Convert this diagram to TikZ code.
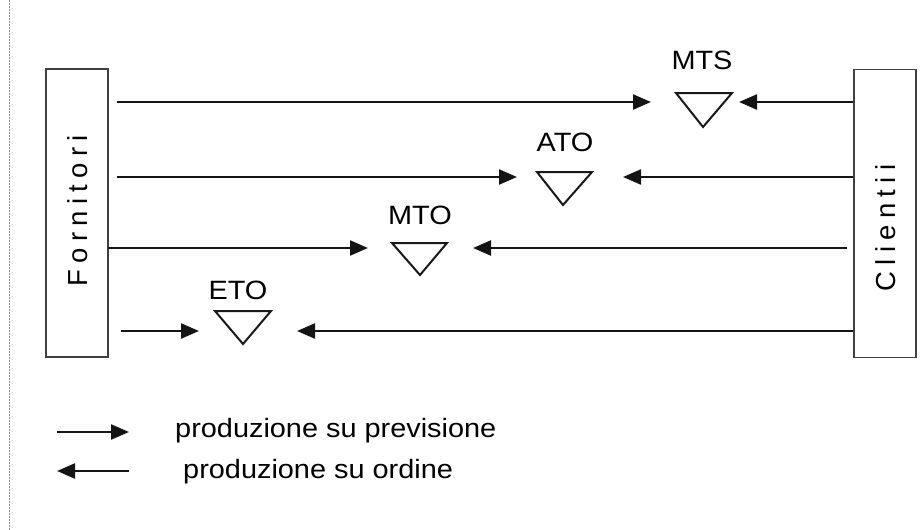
\documentclass[tikz,border=0pt]{standalone}
\usepackage{fontspec}
\setmainfont{Liberation Sans}
\usetikzlibrary{arrows.meta}

\tikzset{
  flow/.style={line width=2.3pt, draw=black!92, -{Triangle[length=18pt,width=15pt]}},
  party/.style={draw=black!75, line width=1.6pt, minimum width=62pt, minimum height=288pt, inner sep=0pt},
  partytext/.style={rotate=90, anchor=base, inner sep=0pt,
    font=\fontsize{27.5}{30}\selectfont\addfontfeature{LetterSpace=23}},
  buffer/.style={draw=black!90, line width=2pt, line join=miter},
  tag/.style={anchor=base, inner sep=0pt, font=\fontsize{26.5}{30}\selectfont},
  legendtext/.style={anchor=base west, inner sep=0pt, font=\fontsize{26.5}{30}\selectfont}
}

\begin{document}
\begin{tikzpicture}[x=1pt, y=-1pt]
  \useasboundingbox (0,0) rectangle (922,530);

  % margin rule on the left
  \draw[black!45, line width=1pt, dash pattern=on 1.5pt off 1.5pt] (9,0) -- (9,530);

  % suppliers and customers
  \node[party] (forn) at (77,213) {};
  \node[party] (cli) at (885,213.5) {};
  \node[partytext] (fornlbl) at (87.5,211) {Fornitori};
  \node[partytext] (clilbl) at (895.5,228) {Clientii};

  % decoupling points (stock buffers)
  \draw[buffer] (676,93) -- (732,93) -- (703,127) -- cycle;
  \draw[buffer] (537,172) -- (592,172) -- (563,205) -- cycle;
  \draw[buffer] (392,243) -- (447,243) -- (420,275) -- cycle;
  \draw[buffer] (215,311) -- (271,311) -- (243,344) -- cycle;

  \node[tag] (mts) at (702,69) {\scalebox{1.09}[1]{MTS}};
  \node[tag] (ato) at (565,151) {\scalebox{1.09}[1]{ATO}};
  \node[tag] (mto) at (420,224) {\scalebox{1.09}[1]{MTO}};
  \node[tag] (eto) at (238,299) {\scalebox{1.09}[1]{ETO}};

  % arrow end points
  \coordinate (f1) at (117,102);  \coordinate (t1) at (651,102);
  \coordinate (f2) at (117,177);  \coordinate (t2) at (517,177);
  \coordinate (f3) at (108,248);  \coordinate (t3) at (368,248);
  \coordinate (f4) at (121,331);  \coordinate (t4) at (199,331);

  \coordinate (c1) at (853,102);  \coordinate (u1) at (739,102);
  \coordinate (c2) at (853,177);  \coordinate (u2) at (623,177);
  \coordinate (c3) at (847,248);  \coordinate (u3) at (473,248);
  \coordinate (c4) at (853,331);  \coordinate (u4) at (297,331);

  % production driven by forecast
  \draw[flow] (f1) -- (t1);
  \draw[flow] (f2) -- (t2);
  \draw[flow] (f3) -- (t3);
  \draw[flow] (f4) -- (t4);

  % production driven by orders
  \draw[flow] (c1) -- (u1);
  \draw[flow] (c2) -- (u2);
  \draw[flow] (c3) -- (u3);
  \draw[flow] (c4) -- (u4);

  % legend
  \coordinate (la) at (57,432);  \coordinate (lb) at (129,432);
  \coordinate (lc) at (129,471); \coordinate (ld) at (57,471);
  \draw[flow] (la) -- (lb);
  \draw[flow] (lc) -- (ld);
  \node[legendtext] (lprev) at (175,437) {\scalebox{1.09}[1]{produzione su previsione}};
  \node[legendtext] (lord) at (183,478) {\scalebox{1.09}[1]{produzione su ordine}};
\end{tikzpicture}
\end{document}
